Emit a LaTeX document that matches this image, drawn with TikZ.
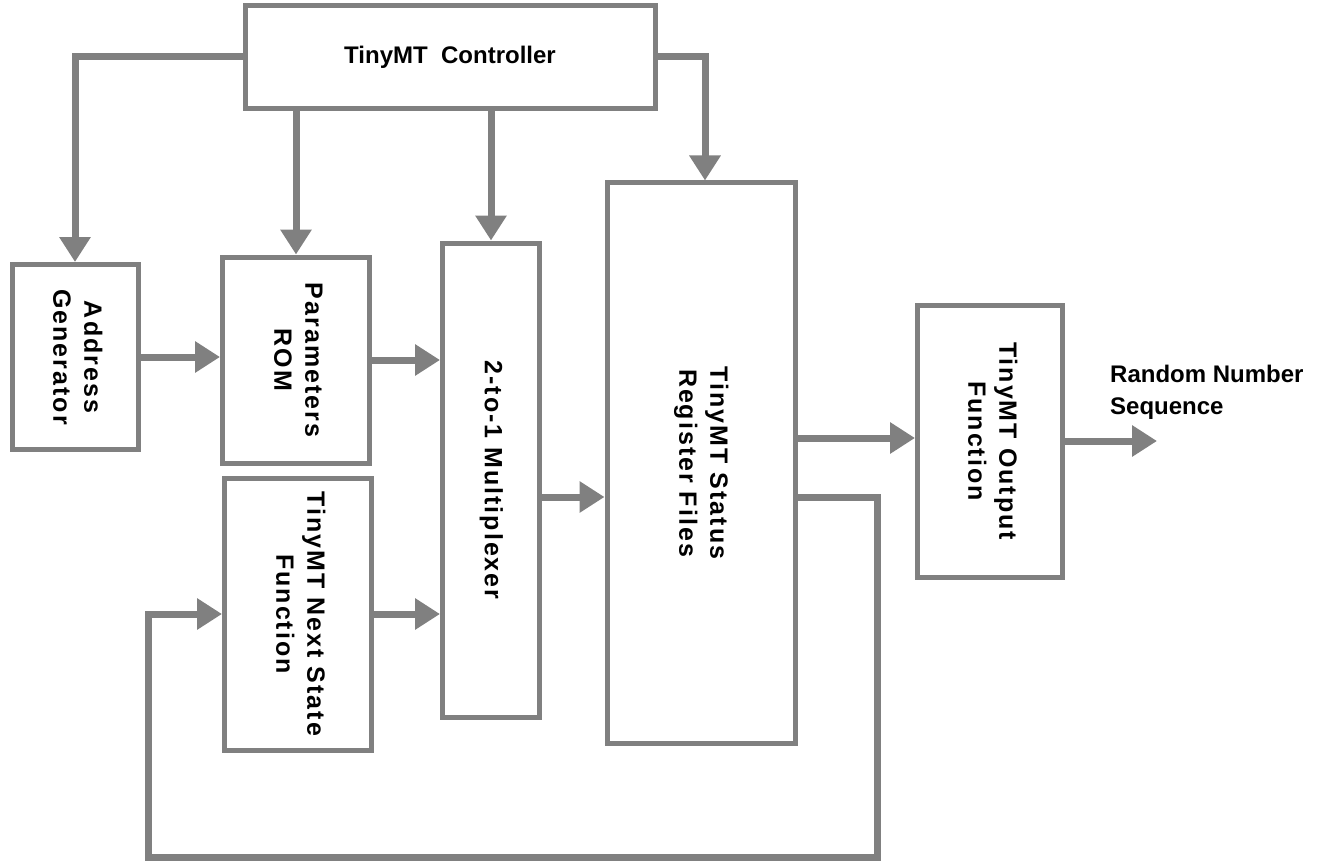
\documentclass[tikz,border=0pt]{standalone}
\usepackage{fontspec}
\setmainfont{Liberation Sans}
\newfontfamily\spacedfont{Liberation Sans}[LetterSpace=8]
\usetikzlibrary{positioning,arrows.meta,calc}
\definecolor{linegray}{RGB}{128,128,128}
\definecolor{textblack}{RGB}{0,0,0}
% rotated, top-to-bottom block label
\newcommand{\vlabel}[1]{\rotatebox{-90}{\spacedfont\bfseries\fontsize{25}{31}\selectfont\begin{tabular}{@{}c@{}}#1\end{tabular}}}

\begin{document}
\begin{tikzpicture}[
    x=1pt, y=-1pt,
    >={Triangle[length=25pt,width=30pt]},
    block/.style={
        rectangle, draw=linegray, line width=5pt,
        fill=white, inner sep=0pt,
        text=textblack,
        font=\bfseries\fontsize{24}{29}\selectfont
    },
    flow/.style={
        ->, draw=linegray, line width=7pt
    },
    outlabel/.style={
        font=\bfseries\fontsize{24}{32}\selectfont,
        text=textblack, align=left, inner sep=0pt
    }
]
\useasboundingbox (0,0) rectangle (1324,861);

% Blocks
\node[block, minimum width=410pt, minimum height=103pt] (ctrl) at (450,57) {\raisebox{-4pt}{TinyMT\ \ Controller}};
\node[block, minimum width=126pt, minimum height=185pt] (addr) at (75,357) {\vlabel{Address\\Generator}};
\node[block, minimum width=147pt, minimum height=206pt] (rom) at (296,360) {\vlabel{Parameters\\ROM}};
\node[block, minimum width=147pt, minimum height=272pt] (next) at (298,614) {\vlabel{TinyMT Next State\\Function}};
\node[block, minimum width=97pt, minimum height=474pt] (mux) at (491,480) {\vlabel{2-to-1 Multiplexer}};
\node[block, minimum width=188pt, minimum height=560pt] (regs) at (701,463) {\vlabel{TinyMT Status\\Register Files}};
\node[block, minimum width=145pt, minimum height=272pt] (outf) at (990,441) {\vlabel{TinyMT Output\\Function}};

% Output label
\node[outlabel, anchor=north west] (rns) at (1110,365) {Random Number\\Sequence};

% Helper points
\coordinate (muxout) at ([yshift=-17pt]mux.east);
\coordinate (regsout) at ([yshift=25pt]regs.east);
\coordinate (regsfb) at ([yshift=-34pt]regs.east);
\coordinate (fbright) at (877,857);
\coordinate (fbleft) at (148,857);
\coordinate (rnsend) at (1157,441);
\coordinate (regsin) at ([xshift=4pt]regs.north);

% Controller connections
\draw[flow] (ctrl.west) -| (addr.north);
\draw[flow] (ctrl.south -| rom.north) -- (rom.north);
\draw[flow] (ctrl.south -| mux.north) -- (mux.north);
\draw[flow] (ctrl.east) -| (regsin);

% Data path
\draw[flow] (addr.east) -- (addr.east -| rom.west);
\draw[flow] (rom.east) -- (rom.east -| mux.west);
\draw[flow] (next.east) -- (next.east -| mux.west);
\draw[flow] (muxout) -- (muxout -| regs.west);
\draw[flow] (regsout) -- (regsout -| outf.west);
\draw[flow] (outf.east) -- (rnsend);

% Feedback loop
\draw[flow] (regsfb) -| (fbright) -- (fbleft) |- (next.west);

\end{tikzpicture}
\end{document}
